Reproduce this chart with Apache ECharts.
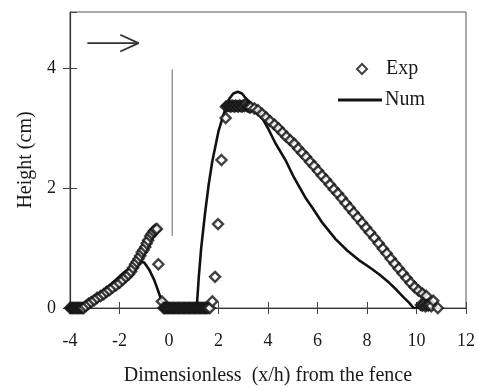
<!DOCTYPE html>
<html>
<head>
<meta charset="utf-8">
<script src="https://cdn.jsdelivr.net/npm/echarts@6/dist/echarts.min.js"></script>
<style>
  html, body { margin: 0; padding: 0; background: #fff; }
  #chart { width: 478px; height: 391px; }
</style>
</head>
<body>
<div id="chart"></div>
<script>
// measured profile (diamonds)
const expX = [
  -4.0, -3.95, -3.9, -3.85, -3.8, -3.75, -3.7, -3.65, -3.6, -3.55, -3.5, -3.45,
  -3.37, -3.25, -3.14, -3.02, -2.9, -2.76, -2.64, -2.52, -2.4, -2.28, -2.14, -2.0,
  -1.87, -1.74, -1.63, -1.53, -1.45, -1.37, -1.3, -1.23, -1.16, -1.1, -1.03, -0.96,
  -0.9, -0.84, -0.76, -0.69, -0.62, -0.55, -0.49, -0.43, -0.29,
  -0.22, -0.17, -0.12, -0.07, -0.02, 0.03, 0.08, 0.13, 0.18, 0.23, 0.28, 0.33,
  0.38, 0.43, 0.48, 0.53, 0.58, 0.63, 0.68, 0.73, 0.78, 0.83, 0.88, 0.93,
  0.98, 1.03, 1.08, 1.13, 1.18, 1.23, 1.28, 1.33, 1.38, 1.43, 1.48, 1.53, 1.58, 1.65,
  1.75, 1.86, 1.98, 2.12, 2.29,
  2.3, 2.35, 2.4, 2.45, 2.5, 2.55, 2.6, 2.65, 2.7, 2.75, 2.8, 2.85, 2.9, 2.95,
  3.0, 3.05, 3.1, 3.15, 3.2, 3.25, 3.3,
  3.45, 3.6, 3.76, 3.92, 4.08, 4.26, 4.42, 4.58, 4.74, 4.9, 5.06, 5.22, 5.38,
  5.54, 5.7, 5.86, 6.02, 6.18, 6.34, 6.5, 6.66, 6.82, 6.98, 7.14, 7.3, 7.46,
  7.62, 7.8, 7.96, 8.12, 8.3, 8.47, 8.64, 8.8, 8.96, 9.12, 9.28, 9.44, 9.6,
  9.76, 9.92, 10.08, 10.24, 10.4,
  10.18, 10.24, 10.3, 10.36, 10.42, 10.48, 10.54, 10.6, 10.68, 10.86
];
const expY = [
  0, 0, 0, 0, 0, 0, 0, 0, 0, 0, 0, 0,
  0.03, 0.07, 0.1, 0.13, 0.17, 0.2, 0.23, 0.27, 0.3, 0.34, 0.38, 0.42,
  0.47, 0.52, 0.56, 0.61, 0.67, 0.73, 0.77, 0.82, 0.87, 0.93, 0.97, 1.02,
  1.08, 1.13, 1.2, 1.24, 1.28, 1.31, 1.32, 0.73, 0.11,
  0, 0, 0, 0, 0, 0, 0, 0, 0, 0, 0, 0,
  0, 0, 0, 0, 0, 0, 0, 0, 0, 0, 0, 0,
  0, 0, 0, 0, 0, 0, 0, 0, 0, 0, 0, 0, 0, 0,
  0.11, 0.52, 1.4, 2.47, 3.17,
  3.36, 3.37, 3.38, 3.37, 3.36, 3.38, 3.37, 3.36, 3.38, 3.37, 3.36, 3.38, 3.37, 3.36,
  3.38, 3.37, 3.4, 3.37, 3.36, 3.35, 3.35,
  3.33, 3.3, 3.24, 3.18, 3.12, 3.06, 3.0, 2.93, 2.86, 2.8, 2.74, 2.66, 2.59,
  2.52, 2.44, 2.37, 2.29, 2.21, 2.14, 2.06, 1.98, 1.91, 1.83, 1.75, 1.67, 1.59,
  1.51, 1.42, 1.34, 1.26, 1.17, 1.08, 0.99, 0.91, 0.82, 0.74, 0.66, 0.58, 0.5,
  0.42, 0.35, 0.29, 0.24, 0.2,
  0.05, 0.04, 0.06, 0.03, 0.05, 0.04, 0.06, 0.03, 0.12, 0
];

// numerical profile (solid line)
const numX = [
  -4.0, -3.6, -3.3, -3.0, -2.6, -2.2, -1.8, -1.5, -1.2, -1.0, -0.8, -0.6, -0.45, -0.3, -0.2,
  1.12, 1.2, 1.3, 1.45, 1.6, 1.75, 2.0, 2.25, 2.45, 2.6, 2.78, 2.95, 3.1, 3.4, 3.7,
  4.0, 4.3, 4.73, 5.06, 5.5, 5.8, 6.2, 6.73, 7.2, 7.67, 8.1, 8.5, 8.9, 9.2, 9.5, 9.7, 9.88, 10.6
];
const numY = [
  0, 0, 0.08, 0.17, 0.3, 0.45, 0.6, 0.7, 0.77, 0.76, 0.64, 0.47, 0.3, 0.12, 0,
  0, 0.5, 1.0, 1.56, 2.05, 2.45, 2.95, 3.29, 3.5, 3.58, 3.61, 3.58, 3.5, 3.38, 3.22,
  3.0, 2.75, 2.45, 2.17, 1.85, 1.67, 1.42, 1.15, 0.96, 0.8, 0.68, 0.56, 0.42, 0.3, 0.17, 0.09, 0, 0
];

// fence and wind arrow (data coordinates)
const fenceX = [0.13, 0.13];
const fenceY = [1.2, 3.98];
const arrowX = [-3.3, -1.23];
const arrowY = [4.42, 4.42];
const headX = [-1.97, -1.23, -1.97];
const headY = [4.56, 4.42, 4.28];

const xTicks = { min: -4, max: 12, interval: 2 };
const yTicks = { min: 0, max: 4.94, interval: 2 };

const zip = (xs, ys) => xs.map((x, i) => [x, ys[i]]);
const font = 'Liberation Serif';
const ink = '#1a1a1a';

const chart = echarts.init(document.getElementById('chart'));
chart.setOption({
    backgroundColor: '#fff',
    animation: false,
    grid: {
        left: 70, top: 12, width: 399, height: 299,
        show: true, borderColor: '#555', borderWidth: 1
    },
    legend: [{
        left: 356, top: 59, padding: 0,
        itemWidth: 10, itemHeight: 10,
        textStyle: { fontFamily: font, fontSize: 20, color: ink, padding: [0, 0, 0, 14] },
        data: [{ name: 'Exp', icon: 'diamond' }]
    }, {
        left: 338, top: 90, padding: 0,
        itemWidth: 44, itemHeight: 3,
        textStyle: { fontFamily: font, fontSize: 20, color: ink, padding: [0, 0, 0, -2] },
        data: [{ name: 'Num', icon: 'rect' }]
    }],
    xAxis: [{
        type: 'value', ...xTicks, position: 'bottom',
        name: 'Dimensionless  (x/h) from the fence',
        nameLocation: 'middle', nameGap: 58,
        nameTextStyle: { fontFamily: font, fontSize: 20, color: ink },
        splitLine: { show: false },
        axisLine: { onZero: false, lineStyle: { color: '#333', width: 1.2 } },
        axisTick: { length: 6, lineStyle: { color: '#444' } },
        axisLabel: { fontFamily: font, fontSize: 18, color: ink, margin: 24 }
    }, {
        type: 'value', ...xTicks, position: 'bottom',
        splitLine: { show: false },
        axisLine: { show: false, onZero: false },
        axisTick: { inside: true, length: 6, lineStyle: { color: '#444' } },
        axisLabel: { show: false }
    }],
    yAxis: [{
        type: 'value', ...yTicks, position: 'left',
        name: 'Height (cm)',
        nameLocation: 'middle', nameGap: 34,
        nameTextStyle: { fontFamily: font, fontSize: 20, color: ink },
        splitLine: { show: false },
        axisLine: { onZero: false, lineStyle: { color: '#333', width: 1.2 } },
        axisTick: { length: 7, lineStyle: { color: '#444' } },
        axisLabel: { fontFamily: font, fontSize: 18, color: ink, margin: 14, showMaxLabel: false }
    }, {
        type: 'value', ...yTicks, position: 'left',
        splitLine: { show: false },
        axisLine: { show: false, onZero: false },
        axisTick: { inside: true, length: 7, lineStyle: { color: '#444' } },
        axisLabel: { show: false }
    }],
    series: [
        {
            name: 'Num',
            type: 'line',
            data: zip(numX, numY),
            showSymbol: false,
            symbol: 'none',
            lineStyle: { color: '#111', width: 2.6 },
            itemStyle: { color: '#111' },
            z: 2
        },
        {
            name: 'Exp',
            type: 'scatter',
            data: zip(expX, expY),
            symbol: 'diamond',
            symbolSize: 10,
            clip: false,
            itemStyle: { color: '#fff', borderColor: '#111', borderWidth: 2.4 },
            z: 3
        },
        {
            type: 'line',
            data: zip(fenceX, fenceY),
            symbol: 'none',
            lineStyle: { color: '#888', width: 1.3 },
            silent: true
        },
        {
            type: 'line',
            data: zip(arrowX, arrowY),
            symbol: 'none',
            lineStyle: { color: '#333', width: 1.8 },
            silent: true
        },
        {
            type: 'line',
            data: zip(headX, headY),
            symbol: 'none',
            lineStyle: { color: '#333', width: 1.8 },
            silent: true
        }
    ]
});
</script>
</body>
</html>
